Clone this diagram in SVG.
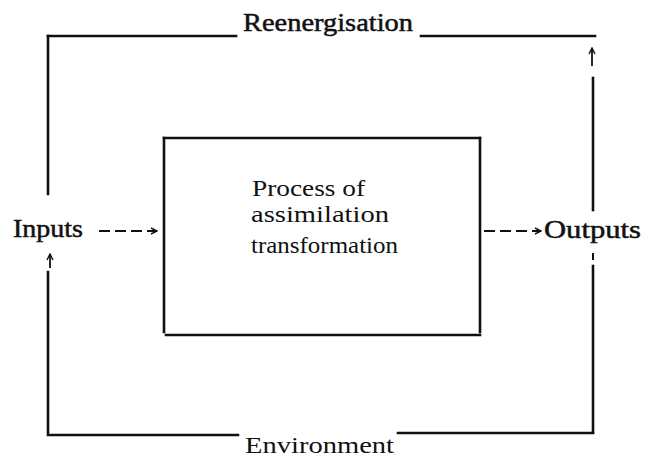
<svg xmlns="http://www.w3.org/2000/svg" width="645" height="459" viewBox="0 0 645 459">
<style>
.ln{stroke:#111;stroke-width:2.6;fill:none;stroke-linecap:square}
.dash{stroke:#111;stroke-width:2;fill:none;stroke-dasharray:11,5}
.up{stroke:#111;stroke-width:1.8;fill:none}
.t{font-family:"Liberation Serif","Times New Roman",serif;fill:#111}
.h{stroke:#111;stroke-width:0.5}
</style>
<defs>
<marker id="ah" viewBox="0 0 8 8" refX="7" refY="4" markerWidth="8" markerHeight="8" markerUnits="userSpaceOnUse" orient="auto">
<path d="M1,1 L7,4 L1,7" fill="none" stroke="#111" stroke-width="1.4"/>
</marker>
</defs>
<rect width="645" height="459" fill="#fff"/>
<g id="environment">
<path class="ln" d="M48,36 H236"/>
<path class="ln" d="M421,36 H595"/>
<path class="ln" d="M48,36 V194"/>
<path class="ln" d="M48,272 V435 H238"/>
<path class="ln" d="M398,433 H593"/>
<path class="ln" d="M593,78 V210"/>
<path class="ln" d="M593,266 V432"/>
<path class="ln" d="M593,254 V259" style="stroke-width:2"/>
<text class="t h" x="243" y="31" font-size="25" textLength="170" lengthAdjust="spacingAndGlyphs">Reenergisation</text>
<text class="t" x="245" y="453" font-size="24" textLength="149" lengthAdjust="spacingAndGlyphs">Environment</text>
</g>
<g id="process">
<path class="ln" d="M164,138 H480"/>
<path class="ln" d="M164,138 V332"/>
<path class="ln" d="M480,138 V332"/>
<path class="ln" d="M166,335 H480"/>
<text class="t" x="252" y="196" font-size="24" textLength="113" lengthAdjust="spacingAndGlyphs">Process  of</text>
<text class="t" x="251" y="222" font-size="24" textLength="138" lengthAdjust="spacingAndGlyphs">assimilation</text>
<text class="t" x="251" y="253" font-size="24" textLength="147" lengthAdjust="spacingAndGlyphs">transformation</text>
</g>
<g id="inputs">
<text class="t h" x="13" y="237" font-size="25" textLength="70" lengthAdjust="spacingAndGlyphs">Inputs</text>
</g>
<g id="outputs">
<text class="t h" x="544" y="238" font-size="25" textLength="97" lengthAdjust="spacingAndGlyphs">Outputs</text>
</g>
<g id="connectors">
<path class="dash" d="M99,231 H157" marker-end="url(#ah)"/>
<path class="dash" d="M484,231 H541" marker-end="url(#ah)"/>
<path class="up" d="M50,268 V254" marker-end="url(#ah)"/>
<path class="up" d="M592,66 V48" marker-end="url(#ah)"/>
</g>
</svg>
